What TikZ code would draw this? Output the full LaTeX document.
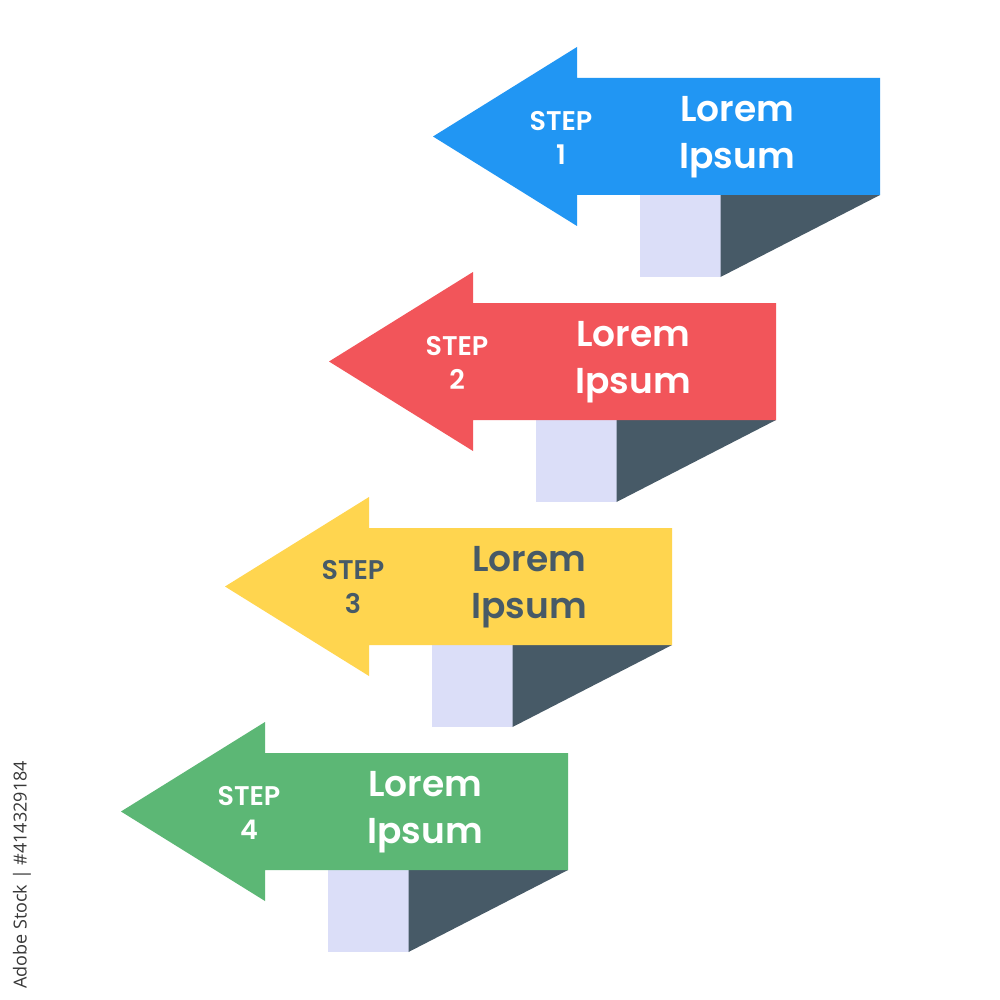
\documentclass[tikz,border=0pt]{standalone}
\usepackage{fontspec}
\setmainfont{Poppins}[BoldFont={Poppins SemiBold}]
\newfontfamily\wmfont{Open Sans}
\definecolor{cblue}{HTML}{2196F3}
\definecolor{cred}{HTML}{F2555A}
\definecolor{cyellow}{HTML}{FFD54F}
\definecolor{cgreen}{HTML}{5CB775}
\definecolor{clav}{HTML}{DBDEF8}
\definecolor{cslate}{HTML}{475A67}
\tikzset{
  steptxt/.style={align=center, inner sep=0pt, font=\bfseries\fontsize{27}{34}\selectfont},
  loremtxt/.style={align=center, inner sep=0pt, font=\bfseries\fontsize{36}{47}\selectfont},
}
\begin{document}
\begin{tikzpicture}[x=1pt,y=-1pt]
\fill[white] (0,0) rectangle (1000,1000);
\useasboundingbox (0,0) rectangle (1000,1000);
\foreach \i/\col/\txt in {0/cblue/white,1/cred/white,2/cyellow/cslate,3/cgreen/white}{
  \pgfmathtruncatemacro\n{\i+1}
  \begin{scope}[shift={(-104*\i,225*\i)}]
    \fill[clav] (640,195) rectangle (721,277);
    \fill[cslate] (720.5,195) -- (880,195) -- (720.5,277) -- cycle;
    \fill[\col] (433,136.5) -- (577,47) -- (577,78) -- (880,78) -- (880,195) -- (577,195) -- (577,226) -- cycle;
    \node[steptxt, text=\txt] (step\n) at (561,137.5) {STEP\\\n};
    \node[loremtxt, text=\txt] (lorem\n) at (737,137.5) {Lorem\\Ipsum};
  \end{scope}
}
\node[rotate=90, font=\wmfont\fontsize{18}{18}\selectfont, text=black!78, inner sep=0pt] (wm) at (22,875) {Adobe Stock | \#414329184};
\end{tikzpicture}
\end{document}
